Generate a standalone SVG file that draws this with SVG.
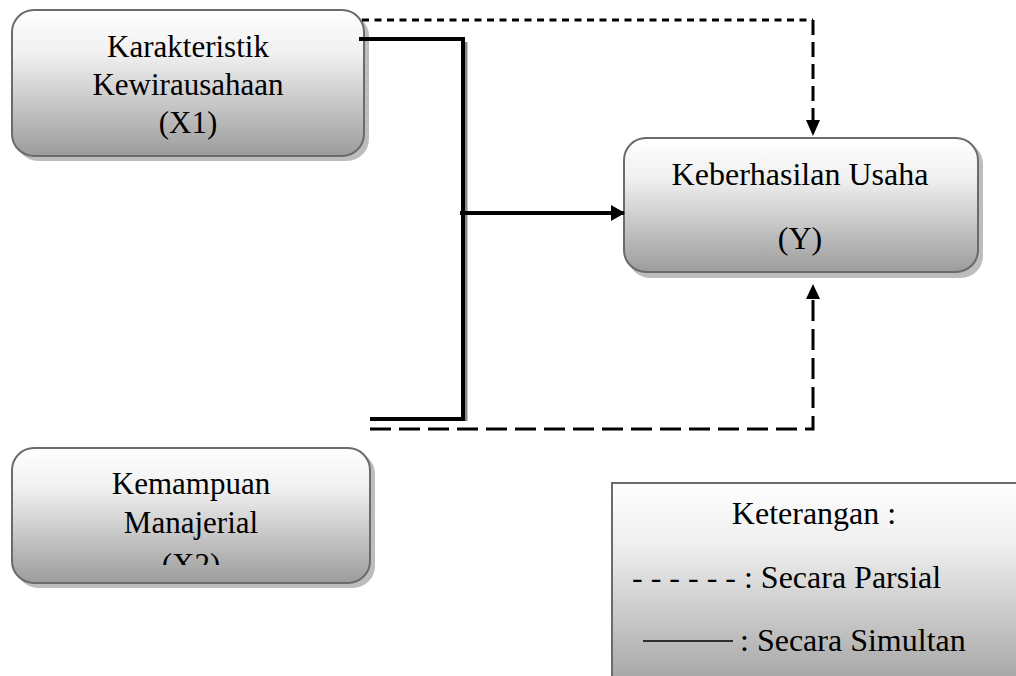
<svg xmlns="http://www.w3.org/2000/svg" width="1016" height="676" viewBox="0 0 1016 676">
<defs>
<linearGradient id="g" x1="0" y1="0" x2="0" y2="1">
<stop offset="0" stop-color="#ffffff"/>
<stop offset="0.3" stop-color="#f0f0f0"/>
<stop offset="1" stop-color="#9c9c9c"/>
</linearGradient>
<linearGradient id="gl" x1="0" y1="0" x2="0" y2="1">
<stop offset="0" stop-color="#ffffff"/>
<stop offset="0.3" stop-color="#eeeeee"/>
<stop offset="1" stop-color="#a0a0a0"/>
</linearGradient>
<marker id="ah" viewBox="0 0 14 16" refX="13" refY="8" markerWidth="14" markerHeight="16" markerUnits="userSpaceOnUse" orient="auto">
<path d="M0,0 L14,8 L0,16 Z" fill="#000"/>
</marker>
<clipPath id="clipX2"><rect x="12" y="448" width="360" height="117"/></clipPath>
<style>
.box{fill:url(#g);stroke:#6b6b6b;stroke-width:2}
.shadow{fill:#bdbdbd}
.t{font-family:"Liberation Serif","Times New Roman",serif;font-size:31px;fill:#000;text-anchor:middle}
.tb{font-size:32px}
.tl{font-family:"Liberation Serif","Times New Roman",serif;font-size:32px;fill:#000}
.solid{fill:none;stroke:#000;stroke-width:4}
.dash{fill:none;stroke:#000;stroke-width:3}
</style>
</defs>
<rect width="1016" height="676" fill="#fff"/>

<g id="node-x1">
<rect class="shadow" x="16" y="14" width="353" height="147" rx="22"/>
<rect class="box" x="12" y="10" width="352" height="146" rx="22"/>
<text class="t" x="188" y="57">Karakteristik</text>
<text class="t" x="188" y="95">Kewirausahaan</text>
<text class="t" x="188" y="133">(X1)</text>
</g>

<g id="node-y">
<rect class="shadow" x="628" y="142" width="355" height="136" rx="22"/>
<rect class="box" x="624" y="138" width="354" height="134" rx="22"/>
<text class="t tb" x="800" y="185">Keberhasilan Usaha</text>
<text class="t tb" x="800" y="249">(Y)</text>
</g>

<g id="node-x2">
<rect class="shadow" x="16" y="452" width="359" height="136" rx="22"/>
<rect class="box" x="12" y="448" width="358" height="135" rx="22"/>
<text class="t" x="191" y="494">Kemampuan</text>
<text class="t" x="191" y="533">Manajerial</text>
<text class="t" x="191" y="575" clip-path="url(#clipX2)">(X2)</text>
</g>

<g id="legend">
<rect x="612" y="483" width="420" height="210" fill="url(#gl)" stroke="#6b6b6b" stroke-width="2"/>
<text class="t tb" x="814" y="524">Keterangan :</text>
<text class="tl" x="632" y="588">- - - - - - : Secara Parsial</text>
<line x1="643" y1="641" x2="733" y2="641" stroke="#000" stroke-width="1.5"/>
<text class="tl" x="740" y="651">: Secara Simultan</text>
</g>

<g id="connectors">
<line x1="466" y1="42" x2="466" y2="421" stroke="#8a8a8a" stroke-width="3"/>
<polyline class="solid" points="359,39 463,39 463,419 370,419"/>
<line class="solid" x1="460" y1="213" x2="624" y2="213" marker-end="url(#ah)"/>
<polyline class="dash" points="362,20 813,20" stroke-dasharray="7,5.5"/>
<line class="dash" x1="813" y1="20" x2="813" y2="121" stroke-dasharray="15,7"/>
<path d="M806,120 L820,120 L813,136 Z" fill="#000"/>
<polyline class="dash" points="370,429 813,429 813,300" stroke-dasharray="21,8"/>
<path d="M806,299 L820,299 L813,284 Z" fill="#000"/>
</g>
</svg>
